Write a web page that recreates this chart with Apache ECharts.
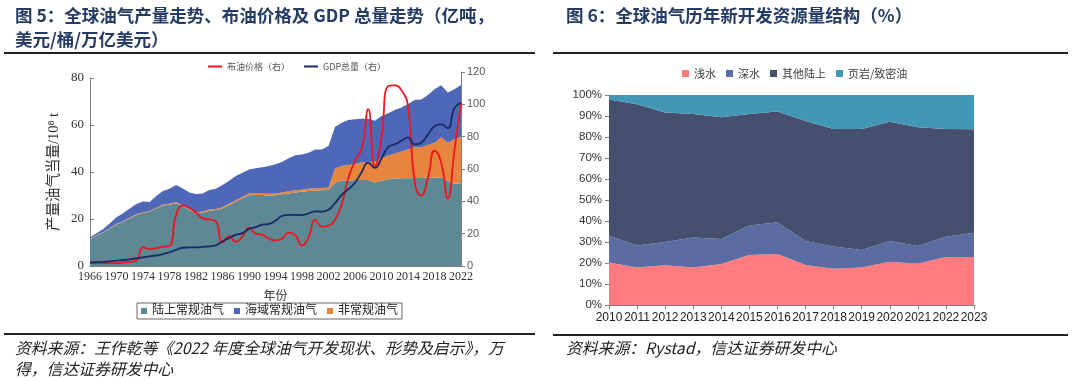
<!DOCTYPE html>
<html><head><meta charset="utf-8">
<script src="https://cdn.jsdelivr.net/npm/echarts@6/dist/echarts.min.js"></script>
<style>html,body{margin:0;padding:0;background:#fff}#c{width:1080px;height:381px}</style>
</head><body><div id="c"></div>
<script>
// ---- Left chart data (1966-2022) ----
const yearsL = ['1966','1967','1968','1969','1970','1971','1972','1973','1974','1975','1976','1977','1978','1979','1980','1981','1982','1983','1984','1985','1986','1987','1988','1989','1990','1991','1992','1993','1994','1995','1996','1997','1998','1999','2000','2001','2002','2003','2004','2005','2006','2007','2008','2009','2010','2011','2012','2013','2014','2015','2016','2017','2018','2019','2020','2021','2022'];
const onshore = [11.5,12.9,14.3,16.0,17.7,18.9,20.3,21.7,22.6,23.1,24.5,25.7,26.1,26.7,25.5,23.8,22.4,22.7,23.5,23.8,24.5,26.0,27.4,28.8,30.1,30.2,30.2,29.9,30.1,30.5,30.9,31.3,31.6,31.9,32.1,32.2,32.3,35.5,36.3,36.3,36.6,36.6,36.6,35.5,36.3,36.9,37.2,37.3,37.3,37.4,37.4,37.7,37.6,37.7,36.3,34.9,35.2];
const unconventional = [0.2,0.2,0.2,0.2,0.3,0.3,0.3,0.3,0.3,0.3,0.3,0.4,0.4,0.4,0.4,0.4,0.5,0.5,0.5,0.5,0.5,0.6,0.6,0.6,0.7,0.7,0.7,0.8,0.8,0.8,0.9,0.9,0.9,1.0,1.0,1.0,1.0,6.1,6.3,6.7,6.8,7.4,7.8,8.9,9.5,10.1,10.7,11.4,12.3,13.1,13.1,13.8,14.9,17.1,16.2,19.0,19.8];
const offshore = [0.5,0.8,1.2,2.0,2.7,3.2,3.9,4.4,4.5,3.8,5.0,5.8,6.4,7.4,7.1,7.1,7.7,7.7,8.3,8.6,9.5,9.7,10.3,10.3,10.3,10.7,11.1,11.9,12.4,13.1,14.0,14.9,15.0,15.3,16.5,16.4,17.8,17.7,18.4,19.1,19.0,18.7,18.3,17.4,18.0,18.0,18.5,18.8,19.3,20.1,20.4,21.3,22.7,22.1,21.3,21.3,22.0];
const brent = [1.8,1.8,1.8,1.8,1.8,2.2,2.5,3.3,11.6,10.5,11.0,12.0,12.4,31.6,37.5,35.9,33.0,29.6,28.8,27.6,14.4,18.4,14.9,18.2,23.7,20.0,19.3,17.0,15.8,17.0,20.7,19.1,12.7,17.9,28.5,24.4,25.0,28.8,38.3,54.5,65.1,72.4,97.0,61.7,79.5,111.3,111.7,108.7,99.0,52.4,43.7,54.2,71.3,64.2,41.8,70.9,100.9];
const gdp = [2.3,2.4,2.6,2.9,3.3,3.7,4.1,4.8,5.3,6.0,6.5,7.3,8.5,10.0,11.3,11.5,11.5,11.8,12.2,12.8,15.3,17.3,19.3,20.3,23.0,24.0,25.6,26.0,28.0,31.0,31.6,31.6,31.5,32.6,33.8,33.6,34.8,39.0,44.0,47.5,51.5,58.0,64.0,60.7,66.5,73.5,75.2,77.5,79.6,75.2,76.3,81.3,86.4,87.7,85.2,97.5,101.0];
const leftTicks = [0,20,40,60,80];
const rightTicks = [0,20,40,60,80,100,120];

// ---- Right chart data (2010-2023, %) ----
const yearsR = ['2010','2011','2012','2013','2014','2015','2016','2017','2018','2019','2020','2021','2022','2023'];
const shallow = [20.2,17.8,18.9,17.8,19.5,23.8,24.3,19.0,17.3,17.9,20.6,19.7,22.9,22.9];
const deep = [12.8,10.5,11.1,14.4,11.9,14.1,15.1,11.5,10.5,8.3,9.9,8.4,9.6,11.5];
const otherOnshore = [64.8,67.3,61.7,58.8,58.0,53.1,52.8,57.1,56.0,57.6,56.8,56.5,51.3,49.3];
const shale = [2.2,4.4,8.3,9.0,10.6,9.0,7.8,12.4,16.2,16.2,12.7,15.4,16.2,16.3];

const SERIF = "'Liberation Serif','Noto Sans CJK SC',serif";
const SANS = "'Liberation Sans','Noto Sans CJK SC',sans-serif";
const CJK = "'Noto Sans CJK SC',sans-serif";
const C_ON = '#5e8893', C_OFF = '#4f67b7', C_UN = '#e8853d';
const C_SH = '#ff7b7d', C_DP = '#5a6ca2', C_OT = '#45506e', C_SL = '#4297b5';

const chart = echarts.init(document.getElementById('c'), null, {renderer:'canvas'});
function area(name, data, color, xi, yi, stack) {
  return {name, type:'line', data, stack, xAxisIndex:xi, yAxisIndex:yi, symbol:'none',
    lineStyle:{width:0}, areaStyle:{color, opacity:1}, itemStyle:{color}, z:1};
}
chart.setOption({
  animation:false,
  backgroundColor:'#fff',
  title:[
    {text:'图 5：全球油气产量走势、布油价格及 GDP 总量走势（亿吨，\n美元/桶/万亿美元）', left:15, top:3, padding:0,
     textStyle:{fontFamily:CJK, fontSize:17.5, fontWeight:'bold', color:'#243b66', lineHeight:24}},
    {text:'图 6：全球油气历年新开发资源量结构（%）', left:566, top:3, padding:0,
     textStyle:{fontFamily:CJK, fontSize:17.5, fontWeight:'bold', color:'#243b66', lineHeight:24}},
    {text:'资料来源：王作乾等《2022 年度全球油气开发现状、形势及启示》，万\n得，信达证券研发中心', left:15, top:337, padding:0,
     textStyle:{fontFamily:CJK, fontSize:15.8, fontStyle:'italic', fontWeight:'normal', color:'#222', lineHeight:21}},
    {text:'资料来源：Rystad，信达证券研发中心', left:566, top:337, padding:0,
     textStyle:{fontFamily:CJK, fontSize:15.8, fontStyle:'italic', fontWeight:'normal', color:'#222', lineHeight:21}}
  ],
  graphic:[
    {type:'line', shape:{x1:4,y1:53,x2:535,y2:53}, style:{stroke:'#222', lineWidth:2}},
    {type:'line', shape:{x1:553,y1:53,x2:1068,y2:53}, style:{stroke:'#222', lineWidth:2}},
    {type:'line', shape:{x1:4,y1:334,x2:535,y2:334}, style:{stroke:'#222', lineWidth:2}},
    {type:'line', shape:{x1:553,y1:335,x2:1068,y2:335}, style:{stroke:'#222', lineWidth:2}}
  ],
  legend:[
    {data:['布油价格（右）','GDP总量（右）'], left:203, top:57, itemWidth:14, itemHeight:2, icon:'rect', itemGap:14,
     textStyle:{fontFamily:CJK, fontSize:9, color:'#555'}},
    {data:['陆上常规油气','海域常规油气','非常规油气'], left:137, top:303, itemWidth:6, itemHeight:6, icon:'rect', itemGap:10,
     borderColor:'#666', borderWidth:1, padding:[2,4], textStyle:{fontFamily:SERIF, fontSize:12, color:'#222'}},
    {data:['浅水','深水','其他陆上','页岩/致密油'], left:677, top:63, itemWidth:7, itemHeight:7, icon:'rect', itemGap:10,
     textStyle:{fontFamily:CJK, fontSize:11, color:'#404040'}}
  ],
  grid:[
    {left:90, right:619, top:78, bottom:115},
    {left:90, right:619, top:72, bottom:115},
    {left:609, right:106, top:95, bottom:76}
  ],
  xAxis:[
    {type:'category', gridIndex:0, data:yearsL, boundaryGap:false,
     name:'年份', nameLocation:'middle', nameGap:25, nameTextStyle:{fontFamily:SERIF, fontSize:12, color:'#333'},
     axisLine:{lineStyle:{color:'#808080'}}, axisTick:{inside:true, interval:3, length:4, lineStyle:{color:'#808080'}},
     axisLabel:{interval:3, fontFamily:SERIF, fontSize:12, color:'#333', margin:5}},
    {type:'category', gridIndex:1, data:yearsL, boundaryGap:false, show:false},
    {type:'category', gridIndex:2, data:yearsR, boundaryGap:false,
     axisLine:{lineStyle:{color:'#808080'}}, axisTick:{length:4, lineStyle:{color:'#808080'}},
     axisLabel:{interval:0, fontFamily:SANS, fontSize:12, color:'#222', margin:7}}
  ],
  yAxis:[
    {type:'value', gridIndex:0, min:leftTicks[0], max:leftTicks[leftTicks.length-1], interval:20, splitLine:{show:false},
     name:'产量油气当量/10⁸ t', nameLocation:'middle', nameRotate:90, nameGap:29,
     nameTextStyle:{fontFamily:SERIF, fontSize:14.5, color:'#333'},
     axisLine:{show:true, lineStyle:{color:'#808080'}}, axisTick:{show:true, inside:true, length:4, lineStyle:{color:'#808080'}},
     axisLabel:{fontFamily:SERIF, fontSize:13, color:'#333', margin:6}},
    {type:'value', gridIndex:1, position:'right', min:rightTicks[0], max:rightTicks[rightTicks.length-1], interval:20, splitLine:{show:false},
     axisLine:{show:true, lineStyle:{color:'#808080'}}, axisTick:{show:true, length:4, lineStyle:{color:'#808080'}},
     axisLabel:{fontFamily:SANS, fontSize:11, color:'#595959', margin:6}},
    {type:'value', gridIndex:2, min:0, max:100, interval:10, splitLine:{show:false},
     axisLine:{show:true, lineStyle:{color:'#808080'}}, axisTick:{show:true, length:4, lineStyle:{color:'#808080'}},
     axisLabel:{formatter:'{value}%', fontFamily:SANS, fontSize:11.5, color:'#333', margin:7}}
  ],
  series:[
    area('陆上常规油气', onshore, C_ON, 0, 0, 'L'),
    area('非常规油气', unconventional, C_UN, 0, 0, 'L'),
    area('海域常规油气', offshore, C_OFF, 0, 0, 'L'),
    {name:'布油价格（右）', type:'line', data:brent, xAxisIndex:1, yAxisIndex:1, smooth:true, symbol:'none',
     lineStyle:{color:'#f0141e', width:1.8}, itemStyle:{color:'#f0141e'}, z:5},
    {name:'GDP总量（右）', type:'line', data:gdp, xAxisIndex:1, yAxisIndex:1, smooth:true, symbol:'none',
     lineStyle:{color:'#1a2a66', width:1.8}, itemStyle:{color:'#1a2a66'}, z:5},
    area('浅水', shallow, C_SH, 2, 2, 'R'),
    area('深水', deep, C_DP, 2, 2, 'R'),
    area('其他陆上', otherOnshore, C_OT, 2, 2, 'R'),
    area('页岩/致密油', shale, C_SL, 2, 2, 'R')
  ]
});
</script></body></html>
